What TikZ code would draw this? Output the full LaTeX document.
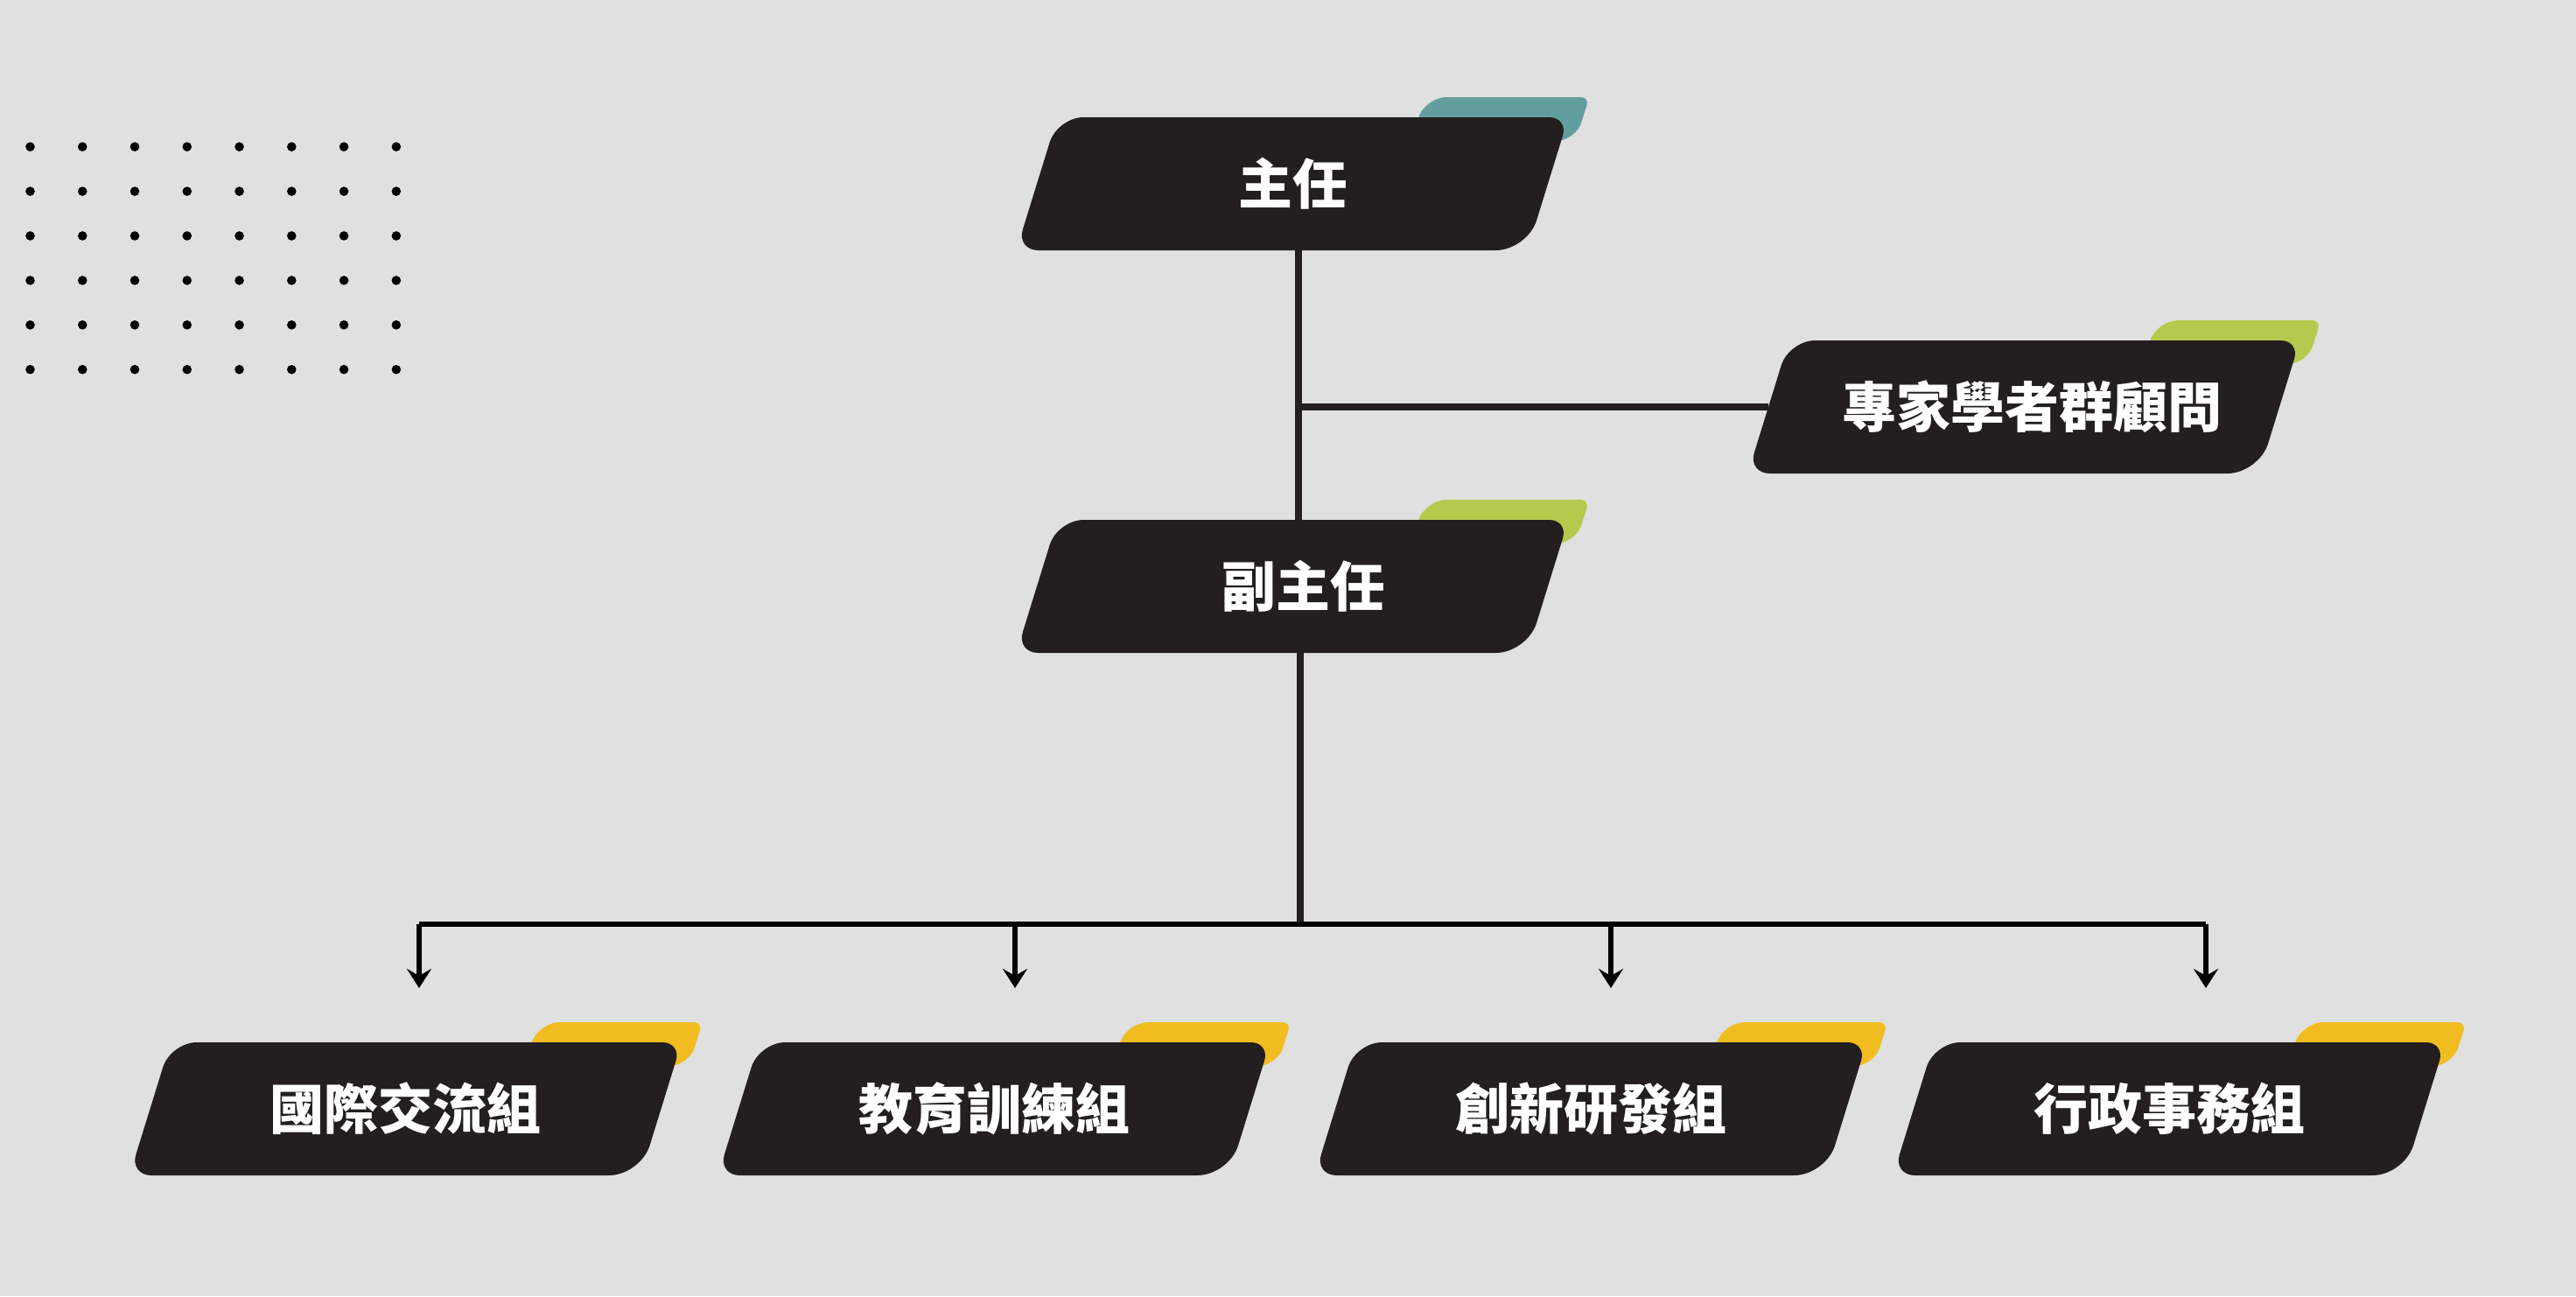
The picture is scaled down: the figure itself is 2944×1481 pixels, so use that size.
\documentclass[tikz,border=0pt]{standalone}
\usepackage{fontspec}
\setmainfont{Noto Sans CJK TC}
\usetikzlibrary{calc,arrows.meta}
\definecolor{bg}{HTML}{E0E0E0}\definecolor{bx}{HTML}{231F20}
\definecolor{tabteal}{HTML}{639E9E}\definecolor{tabgreen}{HTML}{B5C94D}\definecolor{tabyellow}{HTML}{F0BC20}
% round corner at #2 between #1 and #3, tangent length #4
\newcommand{\cor}[4]{($(#2)!#4!(#1)$) .. controls ($(#2)!0.448*#4!(#1)$) and ($(#2)!0.448*#4!(#3)$) .. ($(#2)!#4!(#3)$)}
% quad with its own rounding at each corner: colour, 4 corners, 4 radii
\newcommand{\rquad}[9]{\fill[#1] \cor{#5}{#2}{#3}{#6} -- \cor{#2}{#3}{#4}{#7} -- \cor{#3}{#4}{#5}{#8} -- \cor{#4}{#5}{#2}{#9} -- cycle;}
% [text offset], name, centre, tab colour, text
\newcommand{\unitbox}[5][0]{\coordinate (o) at #3;
 \coordinate (q1) at ($(o)+(151.5,-99)$);\coordinate (q2) at ($(o)+(339.5,-99)$);
 \coordinate (q3) at ($(o)+(323.5,-49)$);\coordinate (q4) at ($(o)+(135.5,-49)$);
 \rquad{#4}{q1}{q2}{q3}{q4}{25pt}{10pt}{22pt}{5pt}
 \coordinate (p1) at ($(o)+(-268.5,-76)$);\coordinate (p2) at ($(o)+(315.5,-76)$);
 \coordinate (p3) at ($(o)+(268.5,76)$);\coordinate (p4) at ($(o)+(-315.5,76)$);
 \rquad{bx}{p1}{p2}{p3}{p4}{30pt}{22pt}{36pt}{25pt}
 \node[u] (#2) at ($(o)+(#1,0)$) {#5};}
\begin{document}
\begin{tikzpicture}
[x=1pt,y=-1pt, u/.style={minimum width=584pt,minimum height=152pt,inner sep=0pt,text=white,font=\bfseries\fontsize{62}{62}\selectfont},
ln/.style={bx,line width=8pt}, bus/.style={black,line width=6pt}, arr/.style={black,line width=5.5pt,-{Stealth[length=22pt,width=28pt,inset=8pt]}}]
\fill[bg] (0,0) rectangle (2944,1481);
\foreach \i in {0,...,7} \foreach \j in {0,...,5} \fill (34.5+59.76*\i,167.7+50.9*\j) circle (5.3);
\unitbox{zr}{(1477,210)}{tabteal}{主任}
\unitbox[12]{fz}{(1477,670)}{tabgreen}{副主任}
\unitbox[9]{zj}{(2313,465)}{tabgreen}{專家學者群顧問}
\unitbox{g1}{(463.5,1267)}{tabyellow}{國際交流組}\unitbox{g2}{(1136,1267)}{tabyellow}{教育訓練組}
\unitbox{g3}{(1818,1267)}{tabyellow}{創新研發組}\unitbox{g4}{(2479,1267)}{tabyellow}{行政事務組}
\coordinate (s) at (1484,465);\coordinate (j) at (1486,1056);
\foreach \x [count=\i] in {479,1160,1841,2521} {\coordinate (b\i) at (\x,1056);\coordinate (a\i) at (\x,1129);}
\draw[ln] ([xshift=7pt]zr.south)--([xshift=-5pt]fz.north);\draw[ln] (s)--([xshift=-9pt]zj.west);
\draw[ln] ([xshift=-3pt]fz.south)--(j);
\draw[bus] (b1)--(b4);
\foreach \i in {1,...,4} \draw[arr] (b\i)--(a\i);
\end{tikzpicture}
\end{document}
